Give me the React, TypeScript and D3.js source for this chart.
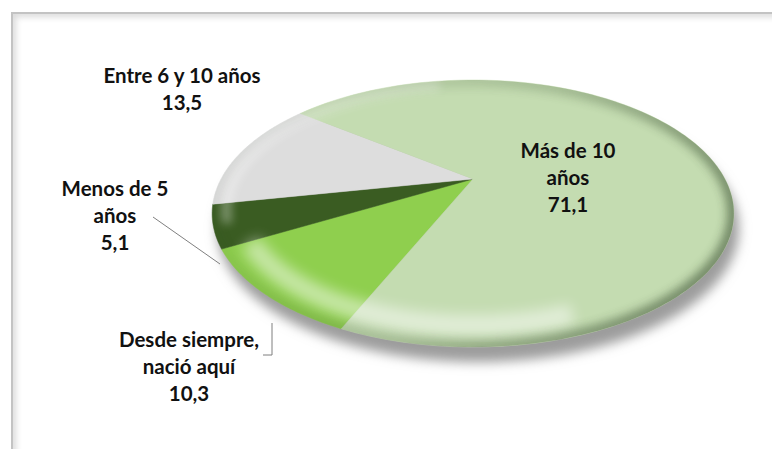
import * as d3 from 'd3';

// data
const categories = ['Desde siempre, nació aquí', 'Menos de 5 años', 'Entre 6 y 10 años', 'Más de 10 años'];
const values = [10.3, 5.1, 13.5, 71.1];
const valueLabels = ['10,3', '5,1', '13,5', '71,1'];
const labelLines = [['Desde siempre,', 'nació aquí'], ['Menos de 5', 'años'], ['Entre 6 y 10 años'], ['Más de 10', 'años']];
const colors = ['#8fcf4e', '#3a5c22', '#dddddd', '#c4dcb1'];

const W = 772;
const H = 449;

// perspective projection of the unit disc onto the tilted pie
const CX = 473;
const CY = 179;
const RX = 252;
const RY = 124.6;
const K = -0.2584;
const FIRST_ANGLE = (203.5 * Math.PI) / 180;

const project = (r: number, a: number): [number, number] => {
  const u = r * Math.sin(a);
  const v = -r * Math.cos(a);
  const w = 1 + K * v;
  return [CX + (RX * u) / w, CY + (RY * v) / w];
};

const arcPoints = (r: number, a0: number, a1: number, n = 90) =>
  d3.range(n + 1).map((i) => project(r, a0 + ((a1 - a0) * i) / n));

const line = d3.line();
const rad = (deg: number) => (deg * Math.PI) / 180;

// label block centres (layout)
const labelPos: [number, number][] = [
  [189, 366],
  [115, 215],
  [182, 88],
  [568, 177],
];
const LINE_H = 27;

export default function App() {
  const pie = d3
    .pie<number>()
    .sort(null)
    .startAngle(FIRST_ANGLE)
    .endAngle(FIRST_ANGLE + 2 * Math.PI)
    .value((d) => d);
  const arcs = pie(values);

  const outline = line(arcPoints(1, 0, 2 * Math.PI, 240)) + 'Z';
  const slicePath = (a0: number, a1: number) =>
    line([project(0, 0), ...arcPoints(1, a0, a1)]) + 'Z';
  const highlight = line(arcPoints(0.9, rad(160), rad(240), 60));
  const topGlow = line(arcPoints(0.95, rad(250), rad(350), 60));

  return (
    <svg
      width={W}
      height={H}
      style={{ position: 'absolute', left: 0, top: 0, display: 'block', background: '#fff' }}
      fontFamily="Lato, 'Open Sans', sans-serif"
    >
      <defs>
        <filter id="blur7" x="-20%" y="-20%" width="140%" height="140%">
          <feGaussianBlur stdDeviation="7" />
        </filter>
        <filter id="blur6" x="-20%" y="-20%" width="140%" height="140%">
          <feGaussianBlur stdDeviation="6" />
        </filter>
        <filter id="blur5" x="-20%" y="-20%" width="140%" height="140%">
          <feGaussianBlur stdDeviation="5" />
        </filter>
        <filter id="blur3" x="-20%" y="-20%" width="140%" height="140%">
          <feGaussianBlur stdDeviation="3" />
        </filter>
        <clipPath id="pieClip">
          <path d={outline} />
        </clipPath>
        <clipPath id="frameClip">
          <rect x={13} y={14} width={W} height={H} />
        </clipPath>
        <linearGradient id="rimGrad" gradientUnits="userSpaceOnUse" x1={280} y1={100} x2={660} y2={340}>
          <stop offset="0" stopColor="#111" />
          <stop offset="0.5" stopColor="#5a5a5a" />
          <stop offset="1" stopColor="#e8e8e8" />
        </linearGradient>
        <mask id="rimMask" maskUnits="userSpaceOnUse" x={0} y={0} width={W} height={H}>
          <rect x={0} y={0} width={W} height={H} fill="url(#rimGrad)" />
        </mask>
      </defs>

      {/* chart frame */}
      <rect x={12} y={13} width={W + 20} height={H + 20} fill="#fff" stroke="#c3c3c3" strokeWidth={2} />
      <g clipPath="url(#frameClip)">
        <rect x={12} y={13} width={W + 20} height={H + 20} fill="none" stroke="#dadada" strokeWidth={8} filter="url(#blur3)" />
      </g>

      {/* drop shadow */}
      <path d={outline} transform="translate(5,15)" fill="#9c9c9c" filter="url(#blur6)" />

      {/* slices */}
      {arcs.map((d, i) => (
        <path key={categories[i]} d={slicePath(d.startAngle, d.endAngle)} fill={colors[i]} stroke={colors[i]} strokeWidth={0.5} />
      ))}

      {/* bevel shading */}
      <g clipPath="url(#pieClip)">
        <path d={topGlow!} fill="none" stroke="#fff" strokeWidth={10} opacity={0.35} filter="url(#blur5)" />
        <path d={highlight!} fill="none" stroke="#fff" strokeWidth={20} opacity={0.5} filter="url(#blur7)" />
        <path
          d={outline}
          fill="none"
          stroke="#33472a"
          strokeWidth={14}
          opacity={0.6}
          filter="url(#blur5)"
          mask="url(#rimMask)"
        />
      </g>

      {/* leader lines */}
      <polyline points="153,217 220,264" fill="none" stroke="#7f7f7f" strokeWidth={1} />
      <polyline points="272,323 272,355 263,355" fill="none" stroke="#7f7f7f" strokeWidth={1} />

      {/* data labels */}
      {arcs.map((d, i) => {
        const rows = [...labelLines[i], valueLabels[i]];
        const [x, y] = labelPos[i];
        const top = y - ((rows.length - 1) * LINE_H) / 2;
        return (
          <text key={categories[i]} x={x} textAnchor="middle" fontSize={20.5} fontWeight={700} fill="#111">
            {rows.map((t, j) => (
              <tspan key={j} x={x} y={top + j * LINE_H} dominantBaseline="central">
                {t}
              </tspan>
            ))}
          </text>
        );
      })}
    </svg>
  );
}
